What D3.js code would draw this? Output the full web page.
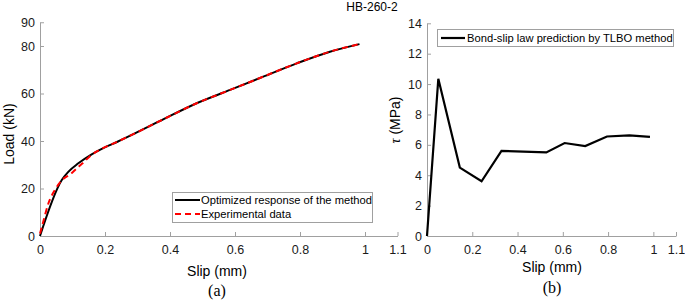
<!DOCTYPE html>
<html>
<head>
<meta charset="utf-8">
<script src="https://cdn.jsdelivr.net/npm/d3@7"></script>
<style>
  body { margin: 0; background: #fff; }
  svg { display: block; font-family: "Liberation Sans", Arial, sans-serif; }
</style>
</head>
<body>
<div id="chart"></div>
<script>
// (a) load-slip response
const slipModel = [0, 0.067, 0.087, 0.118, 0.159, 0.19, 0.24, 0.292, 0.379, 0.482, 0.585, 0.687, 0.79, 0.892, 0.983];
const loadModel = [0, 23.6, 27, 30.6, 34.4, 36.7, 39.8, 43.2, 49.1, 55.9, 61.5, 67.1, 72.7, 77.6, 80.8];
const slipExp = [0, 0.01, 0.026, 0.046, 0.067, 0.097, 0.108, 0.13, 0.159, 0.19, 0.24, 0.292, 0.379, 0.482, 0.585, 0.687, 0.79, 0.892, 0.983];
const loadExp = [1, 6, 13.8, 19.4, 23.4, 26.4, 27.8, 30.5, 34.2, 36.7, 39.8, 43.2, 49.1, 55.9, 61.5, 67.1, 72.7, 77.6, 80.8];

// (b) bond-slip law
const slipTau = [0, 0.05, 0.145, 0.241, 0.329, 0.527, 0.608, 0.699, 0.795, 0.894, 0.985];
const tauVals = [0, 10.35, 4.5, 3.6, 5.6, 5.5, 6.12, 5.92, 6.55, 6.62, 6.52];

const xTicks = [0, 0.2, 0.4, 0.6, 0.8, 1, 1.1];
const loadTicks = [0, 20, 40, 60, 80, 90];
const tauTicks = [0, 2, 4, 6, 8, 10, 12, 14];

const W = 685, H = 303;
const axisColor = "#a0a0a0";

const svg = d3.select("#chart").append("svg")
  .attr("width", W)
  .attr("height", H);

// draws one panel with left+bottom axes, ticks pointing inward
function panel(xr, yr, ydom, yticks) {
  const x = d3.scaleLinear().domain([0, 1.1]).range(xr);
  const y = d3.scaleLinear().domain(ydom).range(yr);

  const xAxis = svg.append("g")
    .attr("transform", `translate(0,${yr[0]})`)
    .call(d3.axisBottom(x).tickValues(xTicks).tickSizeInner(-4).tickSizeOuter(0).tickPadding(9)
      .tickFormat(d3.format("")));
  const yAxis = svg.append("g")
    .attr("transform", `translate(${xr[0]},0)`)
    .call(d3.axisLeft(y).tickValues(yticks).tickSizeInner(-4).tickSizeOuter(0).tickPadding(5));

  [xAxis, yAxis].forEach(a => {
    a.select(".domain").attr("stroke", axisColor);
    a.selectAll(".tick line").attr("stroke", axisColor);
    a.selectAll(".tick text").attr("fill", "#1a1a1a").style("font-size", "12.5px")
      .style("font-family", "Liberation Sans, Arial, sans-serif");
  });
  return { x, y };
}

// ---- panel (a)
const a = panel([40, 397.5], [236, 22.25], [0, 90], loadTicks);

const lineA = d3.line().curve(d3.curveMonotoneX).x(d => a.x(d[0])).y(d => a.y(d[1]));

svg.append("path")
  .datum(d3.zip(slipModel, loadModel))
  .attr("fill", "none")
  .attr("stroke", "#000")
  .attr("stroke-width", 2)
  .attr("d", lineA);

svg.append("path")
  .datum(d3.zip(slipExp, loadExp))
  .attr("fill", "none")
  .attr("stroke", "#ff0000")
  .attr("stroke-width", 2)
  .attr("stroke-dasharray", "6,4")
  .attr("d", lineA);

svg.append("text")
  .attr("transform", "translate(14,134) rotate(-90)")
  .attr("text-anchor", "middle")
  .style("font-size", "14px")
  .text("Load (kN)");

svg.append("text")
  .attr("x", 217).attr("y", 276)
  .attr("text-anchor", "middle")
  .style("font-size", "14px")
  .text("Slip (mm)");

svg.append("text")
  .attr("x", 217).attr("y", 296)
  .attr("text-anchor", "middle")
  .style("font-family", "Liberation Serif, Times New Roman, serif")
  .style("font-size", "16px")
  .text("(a)");

// legend (a)
const legA = svg.append("g");
legA.append("rect")
  .attr("x", 172.5).attr("y", 192.5).attr("width", 200).attr("height", 30)
  .attr("fill", "#fff").attr("stroke", axisColor);
legA.append("line").attr("x1", 175).attr("x2", 200).attr("y1", 200).attr("y2", 200)
  .attr("stroke", "#000").attr("stroke-width", 2);
legA.append("line").attr("x1", 175).attr("x2", 200).attr("y1", 214).attr("y2", 214)
  .attr("stroke", "#ff0000").attr("stroke-width", 2).attr("stroke-dasharray", "6,4");
legA.append("text").attr("x", 201).attr("y", 204).style("font-size", "11.2px")
  .text("Optimized response of the method");
legA.append("text").attr("x", 201).attr("y", 218).style("font-size", "11.2px")
  .text("Experimental data");

svg.append("text")
  .attr("x", 372).attr("y", 11)
  .attr("text-anchor", "middle")
  .style("font-size", "12px")
  .text("HB-260-2");

// ---- panel (b)
const b = panel([427, 676], [236, 23.3], [0, 14], tauTicks);

svg.append("path")
  .datum(d3.zip(slipTau, tauVals))
  .attr("fill", "none")
  .attr("stroke", "#000")
  .attr("stroke-width", 2.2)
  .attr("stroke-linejoin", "miter")
  .attr("d", d3.line().x(d => b.x(d[0])).y(d => b.y(d[1])));

const tauLabel = svg.append("text")
  .attr("transform", "translate(400,120) rotate(-90)")
  .attr("text-anchor", "middle")
  .style("font-size", "14px");
tauLabel.append("tspan")
  .style("font-family", "Liberation Serif, Times New Roman, serif")
  .style("font-style", "italic")
  .text("τ");
tauLabel.append("tspan").text(" (MPa)");

svg.append("text")
  .attr("x", 552).attr("y", 272)
  .attr("text-anchor", "middle")
  .style("font-size", "14px")
  .text("Slip (mm)");

svg.append("text")
  .attr("x", 552).attr("y", 293)
  .attr("text-anchor", "middle")
  .style("font-family", "Liberation Serif, Times New Roman, serif")
  .style("font-size", "16px")
  .text("(b)");

const legB = svg.append("g");
legB.append("rect")
  .attr("x", 437.5).attr("y", 29.5).attr("width", 236).attr("height", 17)
  .attr("fill", "#fff").attr("stroke", axisColor);
legB.append("line").attr("x1", 441).attr("x2", 465).attr("y1", 38).attr("y2", 38)
  .attr("stroke", "#000").attr("stroke-width", 2.2);
legB.append("text").attr("x", 467).attr("y", 42).style("font-size", "11.2px")
  .text("Bond-slip law prediction by TLBO method");
</script>
</body>
</html>
